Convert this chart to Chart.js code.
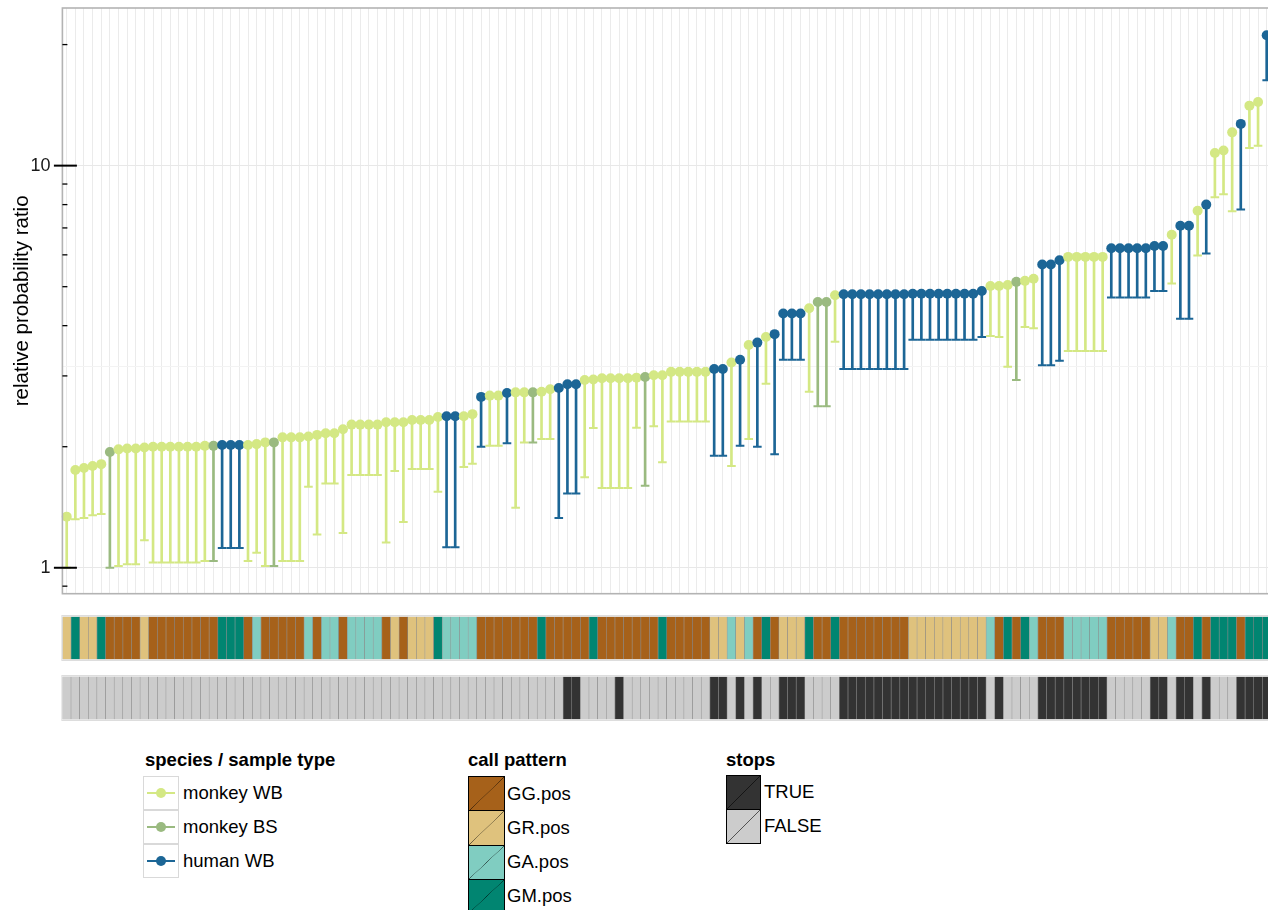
<!DOCTYPE html>
<html>
<head>
<meta charset="utf-8">
<script src="https://cdn.jsdelivr.net/npm/chart.js@4.4.1/dist/chart.umd.min.js"></script>
<style>
html, body { margin: 0; padding: 0; background: #fff; overflow: hidden; width: 1268px; height: 910px; }
body { position: relative; font-family: "Liberation Sans", Arial, Helvetica, sans-serif; color: #000; }
canvas { position: absolute; left: 0; }
#main { top: 0; }
#callStrip { top: 615px; }
#stopStrip { top: 675px; }
.lg { position: absolute; font-size: 18.5px; line-height: 24px; white-space: nowrap; }
.lg.t { font-weight: bold; }
.key { position: absolute; box-sizing: border-box; }
.key .ln { position: absolute; left: 3px; right: 3px; top: 50%; height: 2px; margin-top: -1px; }
.key .dt { position: absolute; left: 50%; top: 50%; width: 10px; height: 10px; margin: -5px 0 0 -5px; border-radius: 50%; }
.sq { border: 1.5px solid #000; background-image: linear-gradient(to bottom right, transparent 49%, rgba(0,0,0,0.6) 50%, transparent 51%); }
</style>
</head>
<body>
<canvas id="main" width="1290" height="600"></canvas>
<canvas id="callStrip" width="1290" height="46"></canvas>
<canvas id="stopStrip" width="1290" height="46"></canvas>
<div id="legend"></div>
<script>
// relative probability ratio (dot) and lower bound (capped end) per gene, sorted
const ratio = [
  1.34, 1.75, 1.77, 1.79, 1.81, 1.94, 1.97, 1.98, 1.98, 1.99,
  2.00, 2.00, 2.00, 2.00, 2.00, 2.00, 2.01, 2.01, 2.02, 2.02,
  2.02, 2.02, 2.03, 2.05, 2.05, 2.11, 2.11, 2.11, 2.12, 2.14,
  2.16, 2.16, 2.21, 2.27, 2.27, 2.27, 2.27, 2.30, 2.30, 2.30,
  2.33, 2.33, 2.33, 2.37, 2.38, 2.38, 2.38, 2.41, 2.66, 2.68,
  2.68, 2.72, 2.73, 2.73, 2.73, 2.74, 2.78, 2.80, 2.86, 2.86,
  2.93, 2.94, 2.96, 2.96, 2.96, 2.96, 2.97, 2.98, 3.01, 3.01,
  3.07, 3.07, 3.07, 3.07, 3.07, 3.12, 3.12, 3.24, 3.29, 3.58,
  3.63, 3.75, 3.81, 4.29, 4.29, 4.29, 4.42, 4.58, 4.58, 4.76,
  4.79, 4.79, 4.79, 4.79, 4.79, 4.79, 4.79, 4.79, 4.80, 4.80,
  4.80, 4.80, 4.80, 4.80, 4.80, 4.80, 4.88, 5.02, 5.02, 5.05,
  5.14, 5.17, 5.23, 5.68, 5.68, 5.82, 5.93, 5.93, 5.93, 5.93,
  5.93, 6.23, 6.23, 6.23, 6.23, 6.23, 6.31, 6.31, 6.73, 7.09,
  7.09, 7.72, 8.00, 10.75, 10.9, 12.1, 12.7, 14.1, 14.4, 21.1
];
const lower = [
  1.00, 1.32, 1.33, 1.35, 1.36, 1.00, 1.01, 1.02, 1.02, 1.17,
  1.03, 1.03, 1.03, 1.03, 1.03, 1.03, 1.04, 1.04, 1.12, 1.12,
  1.12, 1.04, 1.09, 1.01, 1.01, 1.04, 1.04, 1.04, 1.59, 1.21,
  1.62, 1.62, 1.22, 1.70, 1.70, 1.70, 1.70, 1.155, 1.74, 1.30,
  1.76, 1.76, 1.76, 1.545, 1.125, 1.125, 1.78, 1.815, 2.00, 2.01,
  2.01, 2.04, 1.41, 2.05, 2.05, 2.09, 2.09, 1.33, 1.53, 1.53,
  1.68, 2.225, 1.58, 1.58, 1.58, 1.58, 2.23, 1.60, 2.25, 1.83,
  2.31, 2.31, 2.31, 2.31, 2.31, 1.90, 1.90, 1.79, 2.01, 2.09,
  2.00, 2.87, 1.915, 3.29, 3.29, 3.29, 2.74, 2.52, 2.52, 3.65,
  3.12, 3.12, 3.12, 3.12, 3.12, 3.12, 3.12, 3.12, 3.69, 3.69,
  3.69, 3.69, 3.69, 3.69, 3.69, 3.69, 3.75, 3.77, 3.75, 3.16,
  2.93, 3.97, 3.94, 3.19, 3.19, 3.27, 3.46, 3.46, 3.46, 3.46,
  3.46, 4.70, 4.70, 4.70, 4.70, 4.70, 4.88, 4.88, 5.09, 4.16,
  4.16, 5.98, 6.05, 8.35, 8.49, 7.70, 7.78, 11.07, 11.2, 16.3
];
// WB = monkey WB, BS = monkey BS, HU = human WB
const species = [
  'WB','WB','WB','WB','WB','BS','WB','WB','WB','WB',
  'WB','WB','WB','WB','WB','WB','WB','BS','HU','HU',
  'HU','WB','WB','WB','BS','WB','WB','WB','WB','WB',
  'WB','WB','WB','WB','WB','WB','WB','WB','WB','WB',
  'WB','WB','WB','WB','HU','HU','WB','WB','HU','WB',
  'WB','HU','WB','WB','BS','WB','WB','HU','HU','HU',
  'WB','WB','WB','WB','WB','WB','WB','BS','WB','WB',
  'WB','WB','WB','WB','WB','HU','HU','WB','HU','WB',
  'HU','WB','HU','HU','HU','HU','WB','BS','BS','WB',
  'HU','HU','HU','HU','HU','HU','HU','HU','HU','HU',
  'HU','HU','HU','HU','HU','HU','HU','WB','WB','WB',
  'BS','WB','WB','HU','HU','HU','WB','WB','WB','WB',
  'WB','HU','HU','HU','HU','HU','HU','HU','WB','HU',
  'HU','WB','HU','WB','WB','WB','HU','WB','WB','HU'
];
const callPattern = [
  'GR','GM','GR','GR','GM','GG','GG','GG','GG','GR',
  'GG','GG','GG','GG','GG','GG','GG','GG','GM','GM',
  'GM','GG','GA','GG','GG','GG','GG','GG','GA','GG',
  'GA','GA','GG','GA','GA','GA','GA','GG','GR','GG',
  'GR','GR','GR','GM','GA','GA','GA','GA','GG','GG',
  'GG','GG','GG','GG','GG','GM','GG','GG','GG','GG',
  'GG','GM','GG','GG','GG','GG','GG','GG','GG','GM',
  'GG','GG','GG','GG','GG','GR','GR','GA','GR','GA',
  'GG','GM','GG','GR','GR','GR','GM','GG','GG','GM',
  'GG','GG','GG','GG','GG','GG','GG','GG','GR','GR',
  'GR','GR','GR','GR','GR','GR','GR','GA','GG','GM',
  'GG','GM','GA','GG','GG','GG','GA','GA','GA','GA',
  'GA','GG','GG','GG','GG','GG','GR','GR','GA','GG',
  'GG','GM','GG','GM','GM','GM','GG','GM','GM','GM'
];
const stops = [
  'F','F','F','F','F','F','F','F','F','F',
  'F','F','F','F','F','F','F','F','F','F',
  'F','F','F','F','F','F','F','F','F','F',
  'F','F','F','F','F','F','F','F','F','F',
  'F','F','F','F','F','F','F','F','F','F',
  'F','F','F','F','F','F','F','F','T','T',
  'F','F','F','F','T','F','F','F','F','F',
  'F','F','F','F','F','T','T','F','T','F',
  'T','F','F','T','T','T','F','F','F','F',
  'T','T','T','T','T','T','T','T','T','T',
  'T','T','T','T','T','T','T','F','T','F',
  'F','F','F','T','T','T','T','T','T','T',
  'T','F','F','F','F','F','T','T','F','T',
  'T','F','T','F','F','F','T','T','T','T'
];
const gridVals = [1, 3.1623, 10];
const majorTicks = [1, 10];
const minorTicks = [0.9, 2, 3, 4, 5, 6, 7, 8, 9, 20];

const spColor = { WB: '#d4e884', BS: '#9aba80', HU: '#1c6696' };
const spName = { WB: 'monkey WB', BS: 'monkey BS', HU: 'human WB' };
const callColor = { GG: '#a6611a', GR: '#dfc27d', GA: '#80cdc1', GM: '#018571' };
const callName = { GG: 'GG.pos', GR: 'GR.pos', GA: 'GA.pos', GM: 'GM.pos' };
const stopColor = { T: '#333333', F: '#cccccc' };
const stopName = { T: 'TRUE', F: 'FALSE' };

const FONT = '"Liberation Sans", Arial, Helvetica, sans-serif';
const ids = ratio.map((v, i) => 'g' + (i + 1));
const colors = species.map(s => spColor[s]);
const LEFT = 62.4, RIGHT_PAD = 19;

// panel frame and log ticks, drawn through the y scale
const panel = {
  id: 'panel',
  afterDraw(c) {
    const a = c.chartArea, ctx = c.ctx, y = c.scales.y;
    ctx.save();
    ctx.strokeStyle = '#b3b3b3';
    ctx.lineWidth = 1.6;
    ctx.strokeRect(a.left, a.top, a.right - a.left + 5, a.bottom - a.top);
    ctx.strokeStyle = '#000';
    ctx.lineWidth = 1.3;
    minorTicks.forEach(v => {
      const p = y.getPixelForValue(v);
      ctx.beginPath(); ctx.moveTo(a.left, p); ctx.lineTo(a.left + 5, p); ctx.stroke();
    });
    ctx.lineWidth = 2;
    majorTicks.forEach(v => {
      const p = y.getPixelForValue(v);
      ctx.beginPath(); ctx.moveTo(a.left - 8.5, p); ctx.lineTo(a.left + 14.5, p); ctx.stroke();
    });
    ctx.restore();
  }
};

new Chart(document.getElementById('main'), {
  type: 'bar',
  data: {
    labels: ids,
    datasets: [
      {
        type: 'line', label: 'ratio', data: ratio, showLine: false, order: 0,
        pointRadius: 5, pointBackgroundColor: colors, pointBorderWidth: 0
      },
      {
        type: 'line', label: 'lower', data: lower, showLine: false, order: 1,
        pointStyle: 'line', pointRadius: 4.3, pointBorderColor: colors, pointBorderWidth: 2
      },
      {
        type: 'bar', label: 'range', data: ratio.map((v, i) => [lower[i], v]), order: 2,
        backgroundColor: colors, borderWidth: 0, barThickness: 2
      }
    ]
  },
  options: {
    responsive: false,
    animation: false,
    events: [],
    layout: { padding: { top: 8, right: RIGHT_PAD, bottom: 5, left: 0 } },
    plugins: { legend: { display: false }, tooltip: { enabled: false } },
    scales: {
      x: {
        type: 'category', offset: true,
        grid: { offset: false, color: '#ebebeb', lineWidth: 1, drawTicks: false },
        ticks: { display: false },
        border: { display: false },
        afterFit(s) { s.height = 0; s.paddingLeft = 0; s.paddingRight = 0; }
      },
      y: {
        type: 'logarithmic', min: 0.862, max: 24.66,
        afterBuildTicks(s) { s.ticks = gridVals.map(v => ({ value: v })); },
        grid: {
          drawTicks: false,
          color: ctx => (ctx.tick && ctx.tick.value === 3.1623) ? '#f3f3f3' : '#e8e8e8',
          lineWidth: 1
        },
        border: { display: false },
        ticks: {
          padding: 12, color: '#1a1a1a', font: { family: FONT, size: 18 },
          callback: v => (v === 1 || v === 10) ? String(v) : ''
        },
        title: {
          display: true, text: 'relative probability ratio', color: '#000',
          font: { family: FONT, size: 20.5 }, padding: { top: 10, bottom: 0 }
        },
        afterFit(s) { s.width = LEFT; s.paddingTop = 0; s.paddingBottom = 0; }
      }
    }
  },
  plugins: [panel]
});

const stripFrame = {
  id: 'stripFrame',
  afterDraw(c) {
    const a = c.chartArea, ctx = c.ctx;
    ctx.save();
    ctx.strokeStyle = '#dddddd';
    ctx.lineWidth = 1;
    ctx.strokeRect(a.left - 0.5, a.top - 1, a.right - a.left + 10, a.bottom - a.top + 2);
    ctx.restore();
  }
};

function strip(id, codes, lookup) {
  new Chart(document.getElementById(id), {
    type: 'bar',
    data: {
      labels: ids,
      datasets: [{
        data: codes.map(() => 1),
        backgroundColor: codes.map(k => lookup[k]),
        borderColor: 'rgba(0,0,0,0.35)', borderWidth: 0.6, borderSkipped: false,
        barPercentage: 1, categoryPercentage: 1
      }]
    },
    options: {
      responsive: false, animation: false, events: [],
      layout: { padding: { left: LEFT, right: RIGHT_PAD, top: 1.5, bottom: 1.5 } },
      plugins: { legend: { display: false }, tooltip: { enabled: false } },
      scales: { x: { display: false, offset: true }, y: { display: false, min: 0, max: 1 } }
    },
    plugins: [stripFrame]
  });
}
strip('callStrip', callPattern, callColor);
strip('stopStrip', stops, stopColor);

// legends
const lg = document.getElementById('legend');
function add(html) { lg.insertAdjacentHTML('beforeend', html); }
function text(x, cy, s, bold) {
  add(`<div class="lg${bold ? ' t' : ''}" style="left:${x}px;top:${cy - 12}px">${s}</div>`);
}
text(145, 760, 'species / sample type', true);
['WB', 'BS', 'HU'].forEach((k, i) => {
  const top = 776 + i * 34;
  add(`<div class="key" style="left:143px;top:${top}px;width:36px;height:34px;border:1.5px solid #d9d9d9">` +
      `<div class="ln" style="background:${spColor[k]}"></div><div class="dt" style="background:${spColor[k]}"></div></div>`);
  text(183, top + 17, spName[k]);
});
text(468, 760, 'call pattern', true);
['GG', 'GR', 'GA', 'GM'].forEach((k, i) => {
  const top = 776 + i * 34.3;
  add(`<div class="key sq" style="left:468px;top:${top}px;width:37px;height:35.5px;background-color:${callColor[k]}"></div>`);
  text(507, top + 17.5, callName[k]);
});
text(726, 760, 'stops', true);
['T', 'F'].forEach((k, i) => {
  const top = 775 + i * 34;
  add(`<div class="key sq" style="left:726px;top:${top}px;width:34.5px;height:35px;background-color:${stopColor[k]}"></div>`);
  text(764, top + 16.5, stopName[k]);
});
</script>
</body>
</html>
